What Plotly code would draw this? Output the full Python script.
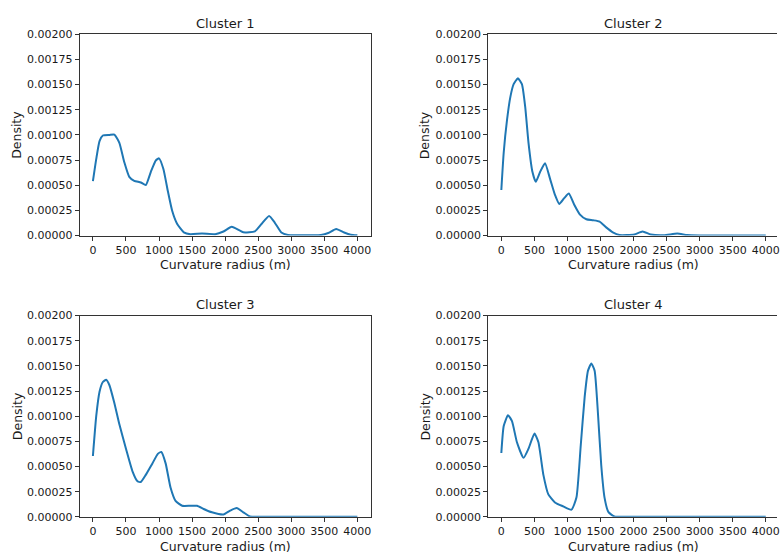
import plotly.graph_objects as go

# Kernel density estimates of curvature radius, per cluster
radius_c1 = [0, 50, 100, 150, 250, 325, 400, 475, 550, 625, 725, 800, 875, 950, 1000, 1065,
             1135, 1200, 1275, 1375, 1475, 1650, 1850, 1975, 2100, 2275, 2450, 2550, 2665, 2750,
             2850, 2950, 3100, 3300, 3450, 3560, 3680, 3800, 3900, 4000]
density_c1 = [0.00054, 0.00076, 0.000939, 0.000994, 0.001, 0.001003, 0.000922, 0.000728, 0.000583,
              0.000544, 0.000527, 0.000502, 0.000631, 0.000745, 0.000767, 0.000663,
              0.000437, 0.000243, 0.000114, 0.000032, 0.000013, 0.00002, 0.000013, 0.00004,
              0.000087, 0.000032, 0.000042, 0.000114, 0.000194, 0.000129,
              0.00003, 0.000005, 0.000002, 0.000002, 0.000005, 0.000025, 0.000065, 0.00003,
              0.000008, 0.000002]

radius_c2 = [0, 36, 86, 136, 186, 251, 311, 361, 411, 471, 521, 586, 661, 736, 811, 876, 951,
             1021, 1101, 1186, 1286, 1386, 1486, 1586, 1686, 1786, 2011, 2136, 2261, 2461, 2661,
             2811, 3000, 3500, 4000]
density_c2 = [0.000453, 0.000825, 0.001149, 0.001376, 0.001505, 0.001563, 0.001505, 0.001279,
              0.000922, 0.000631, 0.000534, 0.000631, 0.000718, 0.000566, 0.000405, 0.000314,
              0.000372, 0.000417, 0.000308, 0.000211, 0.000162, 0.000152, 0.000139, 0.000081,
              0.000032, 0.000005, 0.00001, 0.00004, 0.00001, 0.000003, 0.00002, 0.000005,
              0.000001, 0.0, 0.0]

radius_c3 = [0, 50, 100, 150, 200, 250, 325, 400, 500, 600, 675, 725, 800, 900, 985, 1035, 1100,
             1175, 1250, 1350, 1475, 1575, 1675, 1800, 1975, 2075, 2175, 2275, 2375, 2500, 3000,
             3500, 4000]
density_c3 = [0.000605, 0.001, 0.001243, 0.00134, 0.001362, 0.001308, 0.001129, 0.000919,
              0.000677, 0.00045, 0.000353, 0.000346, 0.000417, 0.000531, 0.000628, 0.000644,
              0.000531, 0.000288, 0.000158, 0.00011, 0.00011, 0.00011, 0.000078, 0.000045,
              0.000023, 0.000061, 0.000087, 0.000045, 0.000003, 0.0, 0.0, 0.0, 0.0]

radius_c4 = [0, 36, 101, 161, 236, 336, 411, 501, 561, 636, 711, 811, 936, 1061, 1136, 1201,
             1261, 1311, 1361, 1411, 1461, 1511, 1561, 1621, 1711, 1850, 2500, 3000, 4000]
density_c4 = [0.000634, 0.000903, 0.00101, 0.000951, 0.000741, 0.000586, 0.000677, 0.000828,
              0.000741, 0.000417, 0.000223, 0.000143, 0.000104, 0.000071, 0.000191, 0.000709,
              0.001194, 0.001453, 0.001524, 0.001453, 0.001032, 0.000515, 0.000191, 0.000046,
              0.000004, 0.0, 0.0, 0.0, 0.0]

titles = ["Cluster 1", "Cluster 2", "Cluster 3", "Cluster 4"]
series = [(radius_c1, density_c1), (radius_c2, density_c2),
          (radius_c3, density_c3), (radius_c4, density_c4)]

x_ticks = list(range(0, 4001, 500))
y_ticks = [i * 0.00025 for i in range(9)]

W, H = 780, 558
FONT = "DejaVu Sans"
TEXT = "#1a1a1a"
LINE = "#1f77b4"

# panel boxes in pixels: (left, right, top, bottom)
boxes = [(80, 372, 29, 235), (490, 780, 29, 235),
         (80, 372, 317, 523), (490, 780, 317, 523)]
px_per_unit = 292 / 4400.0

fig = go.Figure()
annotations = []
layout = {}
for i, ((xs, ys), title, (l, r, t, b)) in enumerate(zip(series, titles, boxes)):
    n = "" if i == 0 else str(i + 1)
    xa, ya = "x" + n, "y" + n
    fig.add_trace(go.Scatter(x=xs, y=ys, mode="lines", xaxis=xa, yaxis=ya,
                             line=dict(color=LINE, width=2, shape="spline", smoothing=0.5),
                             showlegend=False, hoverinfo="skip"))
    right_cut = r >= W
    x_hi = -200 + (r - l) / px_per_unit
    layout["xaxis" + n] = dict(
        domain=[l / W, r / W], anchor=ya, range=[-200, x_hi],
        tickvals=x_ticks, ticktext=[str(v) for v in x_ticks],
        ticks="outside", ticklen=4, tickwidth=1, tickcolor="#333",
        tickfont=dict(family=FONT, size=11, color=TEXT),
        ticklabeloverflow="allow",
        showgrid=False, zeroline=False,
        showline=True, linecolor="#333", linewidth=1, mirror=True)
    layout["yaxis" + n] = dict(
        domain=[1 - b / H, 1 - t / H], anchor=xa, range=[0, 0.002],
        tickvals=y_ticks, tickformat=".5f",
        ticks="outside", ticklen=4, tickwidth=1, tickcolor="#333",
        tickfont=dict(family=FONT, size=11, color=TEXT),
        showgrid=False, zeroline=False,
        showline=True, linecolor="#333", linewidth=1, mirror=not right_cut)
    cx = (l + (l + 292)) / 2.0
    annotations.append(dict(text=title, x=cx / W, y=1 - (t - 11) / H, xref="paper", yref="paper",
                            showarrow=False, xanchor="center", yanchor="middle",
                            font=dict(family=FONT, size=13, color=TEXT)))
    annotations.append(dict(text="Curvature radius (m)", x=cx / W, y=1 - (b + 30) / H,
                            xref="paper", yref="paper", showarrow=False,
                            xanchor="center", yanchor="middle",
                            font=dict(family=FONT, size=12.5, color=TEXT)))
    annotations.append(dict(text="Density", x=(l - 63) / W, y=1 - ((t + b) / 2.0) / H,
                            xref="paper", yref="paper", showarrow=False, textangle=-90,
                            xanchor="center", yanchor="middle",
                            font=dict(family=FONT, size=12.5, color=TEXT)))

fig.update_layout(width=W, height=H, margin=dict(l=0, r=0, t=0, b=0),
                  paper_bgcolor="white", plot_bgcolor="white",
                  annotations=annotations, **layout)
fig.write_html("out.html")
